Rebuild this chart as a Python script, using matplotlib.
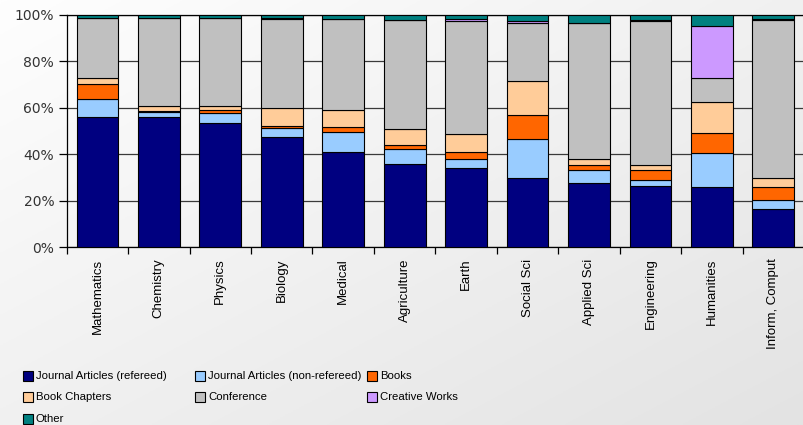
import numpy as np
import matplotlib.pyplot as plt
from matplotlib.patches import Rectangle
from matplotlib.colors import LinearSegmentedColormap


categories = ['Mathematics', 'Chemistry', 'Physics', 'Biology', 'Medical',
              'Agriculture', 'Earth', 'Social Sci', 'Applied Sci',
              'Engineering', 'Humanities', 'Inform, Comput']

# percent of outputs per type
journal_ref    = [56.1, 56.1, 53.6, 47.3, 41.1, 35.7, 34.2, 29.9, 27.6, 26.4, 25.8, 16.5]
journal_nonref = [ 7.8,  2.2,  4.0,  3.9,  8.3,  6.6,  3.9, 16.5,  5.5,  2.8, 14.7,  3.8]
books          = [ 6.2,  0.4,  1.3,  1.0,  2.2,  1.7,  2.9, 10.3,  2.2,  4.3,  8.8,  5.5]
book_chapters  = [ 2.7,  1.9,  1.7,  7.6,  7.3,  6.7,  7.6, 14.8,  2.8,  1.9, 13.2,  3.9]
conference     = [25.6, 37.8, 37.8, 38.4, 39.3, 47.2, 48.6, 24.8, 58.3, 62.2, 10.3, 68.0]
creative       = [ 0.0,  0.0,  0.0,  0.2,  0.0,  0.0,  1.0,  1.0,  0.0,  0.2, 22.2,  0.3]
other          = [ 1.6,  1.6,  1.6,  1.6,  1.8,  2.1,  1.8,  2.7,  3.6,  2.4,  5.0,  2.0]

series_names = ['Journal Articles (refereed)', 'Journal Articles (non-refereed)', 'Books',
                'Book Chapters', 'Conference', 'Creative Works', 'Other']
series = [journal_ref, journal_nonref, books, book_chapters, conference, creative, other]
colors = ['#000080', '#99CCFF', '#FF6600', '#FFCC99', '#C0C0C0', '#CC99FF', '#008080']


W, H = 804, 425
fig = plt.figure(figsize=(W/100, H/100), dpi=100)

# gradient background
bg = fig.add_axes([0, 0, 1, 1], zorder=-10)
gx, gy = np.meshgrid(np.linspace(0, 1, 300), np.linspace(0, 1, 300))
cmap = LinearSegmentedColormap.from_list('bg', ['#fefefe', '#e3e3e3'])
bg.imshow(0.5*gx + 0.5*gy, cmap=cmap, aspect='auto', extent=[0, 1, 0, 1], vmin=0, vmax=1)
bg.set_axis_off()

ax = fig.add_axes([66.7/W, 1 - 247.3/H, 1 - 66.7/W, (247.3 - 14.7)/H])
ax.set_facecolor('none')

data = np.array(series, dtype=float)
data = data / data.sum(axis=0) * 100
x = np.arange(len(categories))
bottom = np.zeros(len(categories))
for vals, c in zip(data, colors):
    ax.bar(x, vals, 0.68, bottom=bottom, color=c, edgecolor='black', linewidth=0.8, zorder=3)
    bottom += vals

ax.set_xlim(-0.5, len(categories) - 0.5)
ax.set_ylim(0, 100)
ax.set_yticks([0, 20, 40, 60, 80, 100])
ax.set_yticklabels(['%d%%' % v for v in [0, 20, 40, 60, 80, 100]],
                   fontsize=10, color='#333333')
ax.yaxis.grid(True, color='#3a3a3a', linewidth=0.9)
ax.set_axisbelow(True)

ax.set_xticks(x)
ax.set_xticklabels(categories, rotation=90, fontsize=9.5, family='Liberation Sans',
                   va='top', ha='center')
ax.set_xticks(np.arange(-0.5, len(categories)), minor=True)
ax.tick_params(axis='x', which='major', length=0, pad=8)
ax.tick_params(axis='x', which='minor', length=5, width=0.9, direction='out')
ax.tick_params(axis='y', length=6, width=0.9, direction='out', pad=3)

for s in ['left', 'bottom', 'top']:
    ax.spines[s].set_color('black')
    ax.spines[s].set_linewidth(0.9)
ax.spines['right'].set_visible(False)

# legend, laid out in rows like the original
col_x = [23, 195, 367]
row_y = [375.7, 397.3, 419.0]
for i, (name, c) in enumerate(zip(series_names, colors)):
    r, k = divmod(i, 3)
    px, py = col_x[k], row_y[r]
    fig.patches.append(Rectangle((px/W, 1 - (py + 5)/H), 10/W, 10/H, facecolor=c,
                                 edgecolor='black', linewidth=0.8, transform=fig.transFigure))
    fig.text((px + 13)/W, 1 - py/H, name, fontsize=8.2, family='Liberation Sans',
             va='center', ha='left', color='black')

fig.savefig('out.png', dpi=100)
